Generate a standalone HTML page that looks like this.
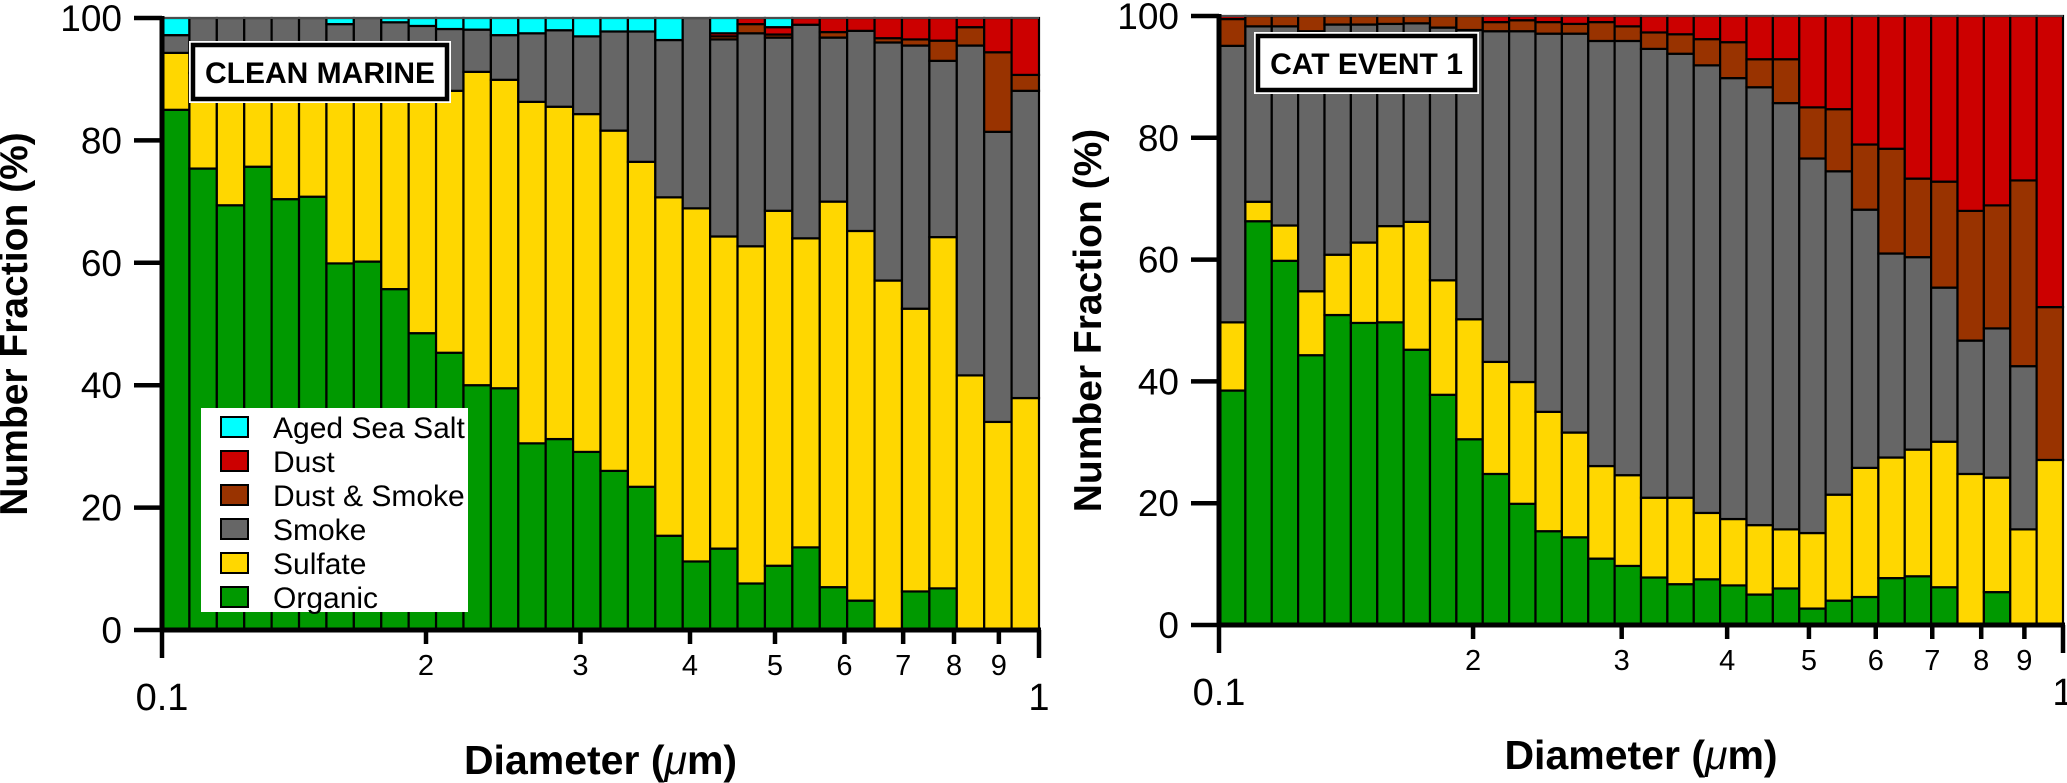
<!DOCTYPE html>
<html><head><meta charset="utf-8"><style>
html,body{margin:0;padding:0;background:#fff;}
svg{display:block;font-family:"Liberation Sans",Arial,sans-serif;}
</style></head><body>
<svg id="chart" width="2067" height="783" viewBox="0 0 2067 783" xmlns="http://www.w3.org/2000/svg"></svg>
<script>
const categories = ["Organic","Sulfate","Smoke","Dust & Smoke","Dust","Aged Sea Salt"];
const colors = ["#009900","#FFD700","#666666","#993300","#CC0000","#00FFFF"];
const yTicks = [0,20,40,60,80,100];
const xMinorTicks = [0.2,0.3,0.4,0.5,0.6,0.7,0.8,0.9];
const xMinorLabels = ["2","3","4","5","6","7","8","9"];
const xMajorTicks = [0.1,1];
const xMajorLabels = ["0.1","1"];
const nBins = 32;
// Clean marine: per-bin composition [organic, sulfate, smoke, dust&smoke, dust, salt]
const cmOrganic = [85,75.4,69.4,75.7,70.4,70.8,59.9,60.2,55.7,48.5,45.3,40.0,39.5,30.5,31.2,29.1,26.0,23.4,15.4,11.2,13.3,7.6,10.5,13.5,7.0,4.8,0,6.3,6.8,0,0,0];
const cmSulfate = [9.3,15.6,21.6,16.3,21.6,21.2,32.1,31.8,35.3,40.5,42.8,51.2,50.4,55.8,54.3,55.2,55.6,53.1,55.3,57.7,51.0,55.1,58.0,50.5,63.0,60.4,57.1,46.2,57.4,41.6,34.0,37.9];
const cmSmoke = [2.9,9.0,9.0,8.0,8.0,8.0,7.0,8.0,8.3,9.7,10.1,6.9,7.3,11.2,12.5,12.7,16.2,21.3,25.7,31.1,32.2,34.8,28.3,34.9,26.8,32.7,38.9,43.0,28.8,53.9,47.4,50.2];
const cmDustSmoke = [0,0,0,0,0,0,0,0,0,0,0,0,0,0,0,0,0,0,0,0,0.5,1.5,0.5,0,0.9,0,0.7,1.0,3.3,3.0,13.0,2.6];
const cmDust = [0,0,0,0,0,0,0,0,0,0,0,0,0,0,0,0,0,0,0,0,0.5,1.0,1.2,1.1,2.3,2.1,3.3,3.5,3.7,1.5,5.6,9.3];
const cmSalt = [2.8,0,0,0,0,0,1.0,0,0.7,1.3,1.8,1.9,2.8,2.5,2.0,3.0,2.2,2.2,3.6,0,2.5,0,1.5,0,0,0,0,0,0,0,0,0];
// CAT event 1
const catOrganic = [38.5,66.3,59.8,44.3,50.9,49.6,49.7,45.2,37.8,30.5,24.8,19.9,15.4,14.4,10.9,9.7,7.8,6.7,7.5,6.5,5.0,6.0,2.7,4.0,4.6,7.7,8.0,6.2,0,5.4,0,0];
const catSulfate = [11.2,3.2,5.8,10.5,9.9,13.2,15.8,21.0,18.8,19.7,18.4,20.0,19.6,17.2,15.2,14.9,13.1,14.2,10.9,10.9,11.4,9.7,12.4,17.4,21.2,19.8,20.8,23.9,24.8,18.8,15.7,27.1];
const catSmoke = [45.4,28.8,32.7,42.7,37.8,35.8,33.2,32.6,41.5,47.5,54.3,57.6,62.1,65.5,69.8,71.3,73.7,72.9,73.5,72.4,71.9,70.0,61.5,53.1,42.4,33.5,31.6,25.3,21.9,24.5,26.8,0];
const catDustSmoke = [4.4,1.7,1.7,2.5,1.4,1.4,1.3,1.2,1.9,2.3,1.5,1.8,1.9,1.6,3.1,2.4,2.7,3.2,4.3,5.9,4.6,7.2,8.4,10.2,10.7,17.2,12.9,17.4,21.3,20.2,30.5,25.1];
const catDust = [0.5,0,0,0,0,0,0,0,0,0,1.0,0.7,1.0,1.3,1.0,1.7,2.7,3.0,3.8,4.3,7.1,7.1,15.0,15.3,21.1,21.8,26.7,27.2,32.0,31.1,27.0,47.8];
const catSalt = new Array(32).fill(0);

const svg = document.getElementById('chart');
const NS = 'http://www.w3.org/2000/svg';
function mk(tag, attrs, parent){const e=document.createElementNS(NS,tag);for(const k in attrs)e.setAttribute(k,attrs[k]);(parent||svg).appendChild(e);return e;}

function drawPanel(p){
  const g = mk('g',{});
  
  
  const xs = d => p.x0 + (p.x1-p.x0)*(Math.log10(d)+1);
  const ys = v => p.y0 - (p.y0-p.y1)*v/100;
  const series = p.series;
  for(let i=0;i<nBins;i++){
    const dl = 0.1*Math.pow(10,i/nBins), dh = 0.1*Math.pow(10,(i+1)/nBins);
    let cum = 0;
    for(let s=0;s<series.length;s++){
      const v = series[s][i];
      if(v<=0) continue;
      const r = mk('rect',{x:xs(dl),y:ys(cum+v),width:xs(dh)-xs(dl),height:ys(cum)-ys(cum+v),fill:colors[s],stroke:'#000','stroke-width':2.2},g);
      
      
      cum += v;
    }
  }
  mk('line',{x1:p.x0,x2:p.x1,y1:p.y1,y2:p.y1,stroke:'#666','stroke-width':1.5},g);
  const ya = mk('line',{x1:p.x0,x2:p.x0,y1:p.y1-2,y2:p.y0+2,stroke:'#000','stroke-width':5},g);
  
  
  const xa = mk('line',{x1:p.x0-2,x2:p.x1+2,y1:p.y0,y2:p.y0,stroke:'#000','stroke-width':5},g);
  
  
  yTicks.forEach(v=>{
    mk('line',{x1:p.x0-28,x2:p.x0,y1:ys(v),y2:ys(v),stroke:'#000','stroke-width':4.5},g);
    const t = mk('text',{x:p.x0-40,y:ys(v)+13,'text-anchor':'end','font-size':37},g);
    t.textContent = v;
    
    
  });
  xMinorTicks.forEach((d,i)=>{
    mk('line',{x1:xs(d),x2:xs(d),y1:p.y0,y2:p.y0+14,stroke:'#000','stroke-width':4.5},g);
    const t = mk('text',{x:xs(d),y:p.y0+45,'text-anchor':'middle','font-size':29},g);
    t.textContent = xMinorLabels[i];
    
    
  });
  xMajorTicks.forEach((d,i)=>{
    mk('line',{x1:xs(d),x2:xs(d),y1:p.y0,y2:p.y0+28,stroke:'#000','stroke-width':4.5},g);
    const t = mk('text',{x:xs(d),y:p.y0+80,'text-anchor':'middle','font-size':38},g);
    t.textContent = xMajorLabels[i];
    
    
  });
  const xt = mk('text',{x:(p.x0+p.x1)/2,y:p.y0+144,'text-anchor':'middle','font-size':41,'font-weight':'bold'},g);
  xt.innerHTML = 'Diameter (<tspan font-style="italic" font-weight="normal">μ</tspan>m)';
  
  
  const yt = mk('text',{x:0,y:0,'text-anchor':'middle','font-size':39,'font-weight':'bold',transform:`translate(${p.ytx},${(p.y0+p.y1)/2}) rotate(-90)`},g);
  yt.textContent = 'Number Fraction (%)';
  
  
  const b = p.box;
  mk('rect',{x:b.x-4,y:b.y-4,width:b.w+8,height:b.h+8,fill:'#fff'},g);
  const br = mk('rect',{x:b.x,y:b.y,width:b.w,height:b.h,fill:'#fff',stroke:'#000','stroke-width':4.5},g);
  
  
  const bt = mk('text',{x:b.x+b.w/2,y:b.y+b.h/2+11,'text-anchor':'middle','font-size':30,'font-weight':'bold'},g);
  bt.textContent = b.text;
  
  
  return g;
}

drawPanel({name:'clean-marine-panel',x0:162,x1:1039,y0:630,y1:18,ytx:27,
  series:[cmOrganic,cmSulfate,cmSmoke,cmDustSmoke,cmDust,cmSalt],
  box:{x:193,y:45,w:254,h:54,text:'CLEAN MARINE'}});
drawPanel({name:'cat-event-panel',x0:1219,x1:2063,y0:625,y1:16,ytx:1101,
  series:[catOrganic,catSulfate,catSmoke,catDustSmoke,catDust,catSalt],
  box:{x:1258,y:36,w:217,h:54,text:'CAT EVENT 1'}});

const lg = mk('g',{});


mk('rect',{x:201,y:408,width:267,height:204,fill:'#fff'},lg);
const legendOrder = [5,4,3,2,1,0];
legendOrder.forEach((s,i)=>{
  const cy = 427 + i*34;
  const sw = mk('rect',{x:221,y:cy-10,width:27,height:20,fill:colors[s],stroke:'#000','stroke-width':2},lg);
  
  
  const t = mk('text',{x:273,y:cy+11,'font-size':30},lg);
  t.textContent = categories[s];
  
  
});
</script>
</body></html>
